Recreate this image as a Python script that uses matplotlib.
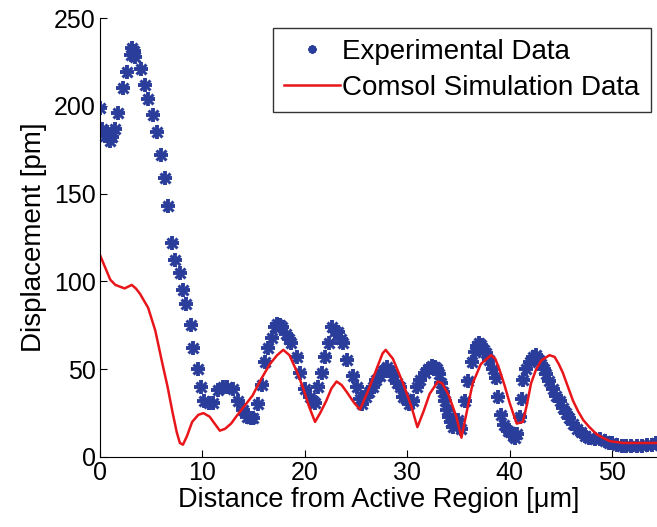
import numpy as np
import matplotlib.pyplot as plt

plt.rcParams['font.family'] = ['Liberation Sans', 'DejaVu Sans']

exp_x = [0.0, 0.2, 0.5, 0.7, 1.0, 1.2, 1.5, 1.8, 2.2, 2.6, 3.0, 3.1, 3.3, 3.4,
         4.0, 4.4, 4.7, 5.2, 5.6, 6.0, 6.3, 6.6, 7.0, 7.3, 7.8, 8.1, 8.4, 8.9,
         9.1, 9.6, 9.9, 10.2, 10.6, 11.0, 11.5, 12.0, 12.4, 13.0, 13.5, 14.0,
         14.4, 14.7, 14.9, 15.4, 15.8, 16.1, 16.4, 16.8, 17.1, 17.3, 17.6, 17.8,
         18.2, 18.5, 18.7, 19.2, 19.5, 20.0, 20.5, 20.8, 21.0, 21.3, 21.7, 22.0,
         22.4, 22.7, 23.0, 23.2, 23.5, 23.7, 24.1, 24.7, 25.1, 25.4, 25.6, 26.0,
         26.3, 26.7, 27.0, 27.3, 27.6, 28.0, 28.3, 28.6, 29.0, 29.3, 29.6, 29.9,
         30.2, 30.6, 31.0, 31.3, 31.7, 32.0, 32.4, 32.7, 32.9, 33.1, 33.3, 33.5,
         33.7, 33.9, 34.1, 34.3, 34.5, 34.8, 35.0, 35.3, 35.6, 35.9, 36.3, 36.6,
         36.8, 37.0, 37.2, 37.5, 37.7, 38.0, 38.4, 38.7, 38.9, 39.2, 39.5, 39.8,
         40.0, 40.3, 40.5, 40.7, 41.0, 41.2, 41.3, 41.6, 42.0, 42.3, 42.6, 42.9,
         43.1, 43.4, 43.6, 43.9, 44.2, 44.5, 44.9, 45.2, 45.5, 45.8, 46.2, 46.6,
         47.0, 47.4, 47.8, 48.3, 48.8, 49.3, 49.7, 50.0, 50.5, 51.0, 51.4, 51.9,
         52.4, 52.9, 53.4, 53.9, 54.3]
exp_y = [199, 187, 183, 185, 180, 182, 187, 196, 210, 219, 229, 233, 231, 228,
         221, 212, 204, 195, 185, 172, 159, 143, 122, 112, 105, 95, 87, 75,
         62, 50, 40, 32, 31, 31, 38, 40, 40, 39, 32, 27,
         23, 22, 22, 30, 41, 54, 62, 68, 74, 76, 75, 74,
         70, 67, 65, 57, 48, 39, 34, 32, 31, 40, 48, 57,
         65, 74, 72, 71, 67, 65, 55, 46, 40, 33, 30, 34,
         37, 40, 44, 46, 49, 51, 49, 46, 42, 40, 34, 33,
         30, 32, 40, 44, 48, 50, 52, 51, 50, 47, 42, 37,
         32, 27, 23, 20, 17, 19, 21, 16, 32, 43, 54, 60,
         63, 65, 64, 61, 59, 55, 50, 45, 34, 24, 18, 15,
         14, 12, 11, 13, 23, 33, 44, 50, 54, 57, 58, 55,
         53, 50, 47, 43, 39, 35, 32, 28, 25, 22, 19, 16,
         14, 12, 11, 10, 10, 9, 8, 8, 7, 6, 6, 6,
         6, 6, 7, 7, 8]

# comsol simulation
sim_x = [0, 0.5, 1, 1.5, 2.4, 3.1, 3.5, 3.9, 4.7, 5.4, 6.1, 6.6, 7.1, 7.5, 7.8,
         8.1, 8.5, 9.0, 9.6, 10.1, 10.7, 11.2, 11.7, 12.2, 12.8, 13.3, 14.1,
         14.9, 15.7, 16.6, 17.3, 17.9, 18.5, 19.2, 19.8, 20.4, 21.0, 21.5, 22.1,
         22.6, 23.1, 23.6, 24.1, 24.8, 25.4, 26.2, 27.0, 27.6, 27.9, 28.6, 29.6,
         30.4, 31.0, 31.6, 32.2, 33.0, 33.4, 34.0, 34.8, 35.3, 35.9, 36.4, 37.2,
         38.2, 38.6, 39.0, 39.5, 40.0, 40.4, 40.7, 41.3, 41.7, 42.1, 42.6, 43.1,
         43.9, 44.4, 44.8, 45.2, 45.7, 46.2, 46.7, 47.2, 47.8, 48.5, 49.1, 49.8,
         51.1, 52.5, 54.4]
sim_y = [115, 108, 101, 98, 96, 98, 96, 93, 85, 72, 53, 40, 25, 14, 8,
         7, 12, 20, 24, 25, 23, 19, 15, 16, 19, 23, 29,
         35, 44, 53, 58, 61, 58, 49, 40, 29, 20, 25, 32,
         39, 43, 41, 37, 31, 27, 38, 50, 59, 61, 56, 42,
         29, 17, 26, 36, 43, 42, 36, 23, 11, 28, 42, 53,
         58, 56, 50, 41, 31, 24, 19, 20, 30, 42, 50, 55,
         58, 57, 53, 48, 40, 32, 26, 21, 17, 13, 11, 9,
         8, 8, 8]

blue = '#2b3d9b'
red = '#e8161b'

fig = plt.figure(figsize=(6.57, 5.27), dpi=100)
ax = fig.add_axes([100/657, 70/527, 557/657, 439/527])

# matlab style asterisk = plus + cross
ax.plot(exp_x, exp_y, linestyle='none', marker='+', markersize=10,
        markeredgewidth=2.8, color=blue)
ax.plot(exp_x, exp_y, linestyle='none', marker='x', markersize=7,
        markeredgewidth=2.2, color=blue)
ax.plot(sim_x, sim_y, color=red, lw=1.8)

# legend proxies
h1, = ax.plot([], [], linestyle='none', marker=(8, 2, 0), markersize=6,
              markeredgewidth=1.6, color=blue, label='Experimental Data')
h2, = ax.plot([], [], color=red, lw=1.8, label='Comsol Simulation Data')

ax.set_xlim(0, 54.4)
ax.set_ylim(0, 250)
ax.set_xticks([0, 10, 20, 30, 40, 50])
ax.set_yticks([0, 50, 100, 150, 200, 250])
ax.tick_params(direction='in', labelsize=18, length=5, pad=3)
ax.spines['top'].set_visible(False)
ax.spines['right'].set_visible(False)

ax.set_xlabel('Distance from Active Region [\u03bcm]', fontsize=19.5, labelpad=1)
ax.set_ylabel('Displacement [pm]', fontsize=20, labelpad=5)

leg = ax.legend(handles=[h1, h2], loc='upper right',
                bbox_to_anchor=(0.989, 0.977), borderaxespad=0, fontsize=20,
                fancybox=False, edgecolor='black', handlelength=2.0,
                handletextpad=0.1, labelspacing=0.35, borderpad=0.4)
leg.get_frame().set_linewidth(1.0)

plt.savefig('out.png')
